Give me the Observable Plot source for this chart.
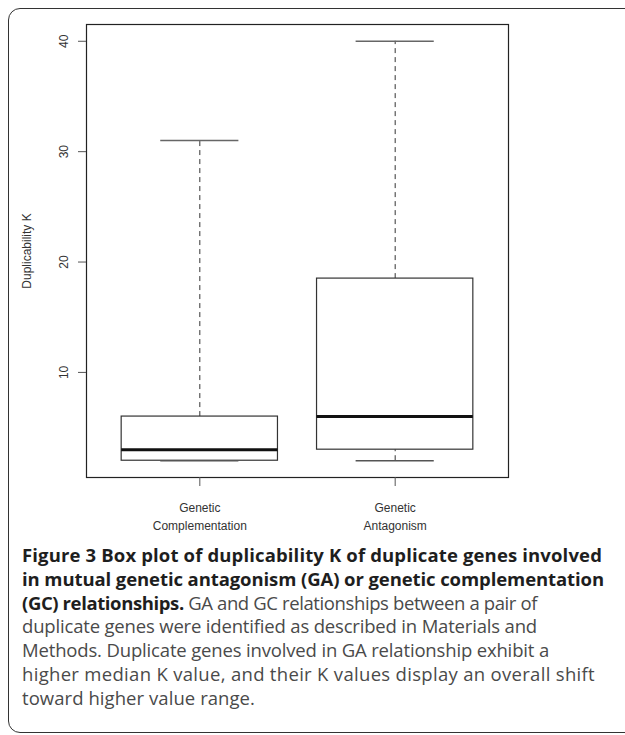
<!DOCTYPE html>
<html>
<head>
<meta charset="utf-8">
<script src="https://cdn.jsdelivr.net/npm/d3@7"></script>
<script src="https://cdn.jsdelivr.net/npm/@observablehq/plot@0.6"></script>
<style>
  html, body { margin: 0; padding: 0; background: #fff; overflow: hidden; }
  #wrap { position: relative; width: 625px; height: 735px; }
  #border { position: absolute; left: 8px; top: 8px; width: 660px; height: 725px;
            border: 1.5px solid #333; border-radius: 12px; box-sizing: border-box; }
  #chart { position: absolute; left: 0; top: 0; }
  #caption { position: absolute; left: 22px; top: 543px; width: 610px;
             font-family: "Open Sans", "Noto Sans", sans-serif; font-size: 18.5px;
             line-height: 23.8px; color: #4a4a4a; white-space: nowrap; }
  #caption .line { display: block; white-space: nowrap; }
  #caption .line span { white-space: nowrap; }
  #caption b { color: #1e1e1e; font-weight: 700; }
</style>
</head>
<body>
<div id="wrap">
  <div id="border"></div>
  <div id="chart"></div>
  <div id="caption">
    <div class="line" data-w="580"><span><b>Figure 3</b> <b>Box plot of duplicability K of duplicate genes involved</b></span></div>
    <div class="line" data-w="582"><span><b>in mutual genetic antagonism (GA) or genetic complementation</b></span></div>
    <div class="line" data-w="515"><span><b>(GC) relationships.</b> GA and GC relationships between a pair of</span></div>
    <div class="line" data-w="515"><span>duplicate genes were identified as described in Materials and</span></div>
    <div class="line" data-w="527"><span>Methods. Duplicate genes involved in GA relationship exhibit a</span></div>
    <div class="line" data-w="573"><span>higher median K value, and their K values display an overall shift</span></div>
    <div class="line" data-w="233"><span>toward higher value range.</span></div>
  </div>
</div>
<script>
const categories = ["Genetic\nComplementation", "Genetic\nAntagonism"];
const whiskerLow = [2, 2];
const quartile1 = [2, 3];
const medians = [3, 6];
const quartile3 = [6, 18.5];
const whiskerHigh = [31, 40];
const yTicks = [10, 20, 30, 40];

const rows = categories.map((c, k) => ({
  i: k + 1, name: c,
  lo: whiskerLow[k], q1: quartile1[k], med: medians[k], q3: quartile3[k], hi: whiskerHigh[k]
}));

const font = "'Liberation Sans', Arial, sans-serif";

const chart = Plot.plot({
  width: 625,
  height: 545,
  marginLeft: 86,
  marginRight: 117,
  marginTop: 24,
  marginBottom: 68,
  style: { fontFamily: font, fontSize: "12px", color: "#333", background: "transparent" },
  x: { domain: [0.42, 2.58] },
  y: { domain: [0.48, 41.52] },
  marks: [
    Plot.ruleX(rows, { x: "i", y1: "q3", y2: "hi", stroke: "#333", strokeDasharray: "5,4" }),
    Plot.ruleX(rows, { x: "i", y1: "lo", y2: "q1", stroke: "#333", strokeDasharray: "5,4" }),
    Plot.rect(rows, { x1: d => d.i - 0.4, x2: d => d.i + 0.4, y1: "q1", y2: "q3", fill: "white", stroke: "#333", strokeWidth: 1.2 }),
    Plot.ruleY(rows, { y: "hi", x1: d => d.i - 0.2, x2: d => d.i + 0.2, stroke: "#666", strokeWidth: 1.5 }),
    Plot.ruleY(rows, { y: "lo", x1: d => d.i - 0.2, x2: d => d.i + 0.2, stroke: "#555", strokeWidth: 1.5 }),
    Plot.ruleY(rows, { y: "med", x1: d => d.i - 0.4, x2: d => d.i + 0.4, stroke: "#111", strokeWidth: 3 }),
    Plot.frame({ stroke: "#222", strokeWidth: 1.2 }),
    Plot.axisY(yTicks, { tickSize: 8, tickPadding: 11, tickRotate: -90, stroke: "#555",
      label: "Duplicability K", labelAnchor: "center", labelArrow: "none", labelOffset: 64 }),
    Plot.axisX([1, 2], { tickSize: 9, tickPadding: 12, stroke: "#555",
      tickFormat: i => categories[i - 1], label: null, lineHeight: 1.55 })
  ]
});
document.getElementById("chart").appendChild(chart);

// fit each caption line's letter spacing to the width it has in the reference
document.querySelectorAll("#caption .line").forEach(line => {
  const span = line.querySelector("span");
  const target = +line.dataset.w;
  span.style.letterSpacing = "0px";
  const w = span.getBoundingClientRect().width;
  const n = span.textContent.length;
  span.style.letterSpacing = ((target - w) / n) + "px";
});
</script>
</body>
</html>
